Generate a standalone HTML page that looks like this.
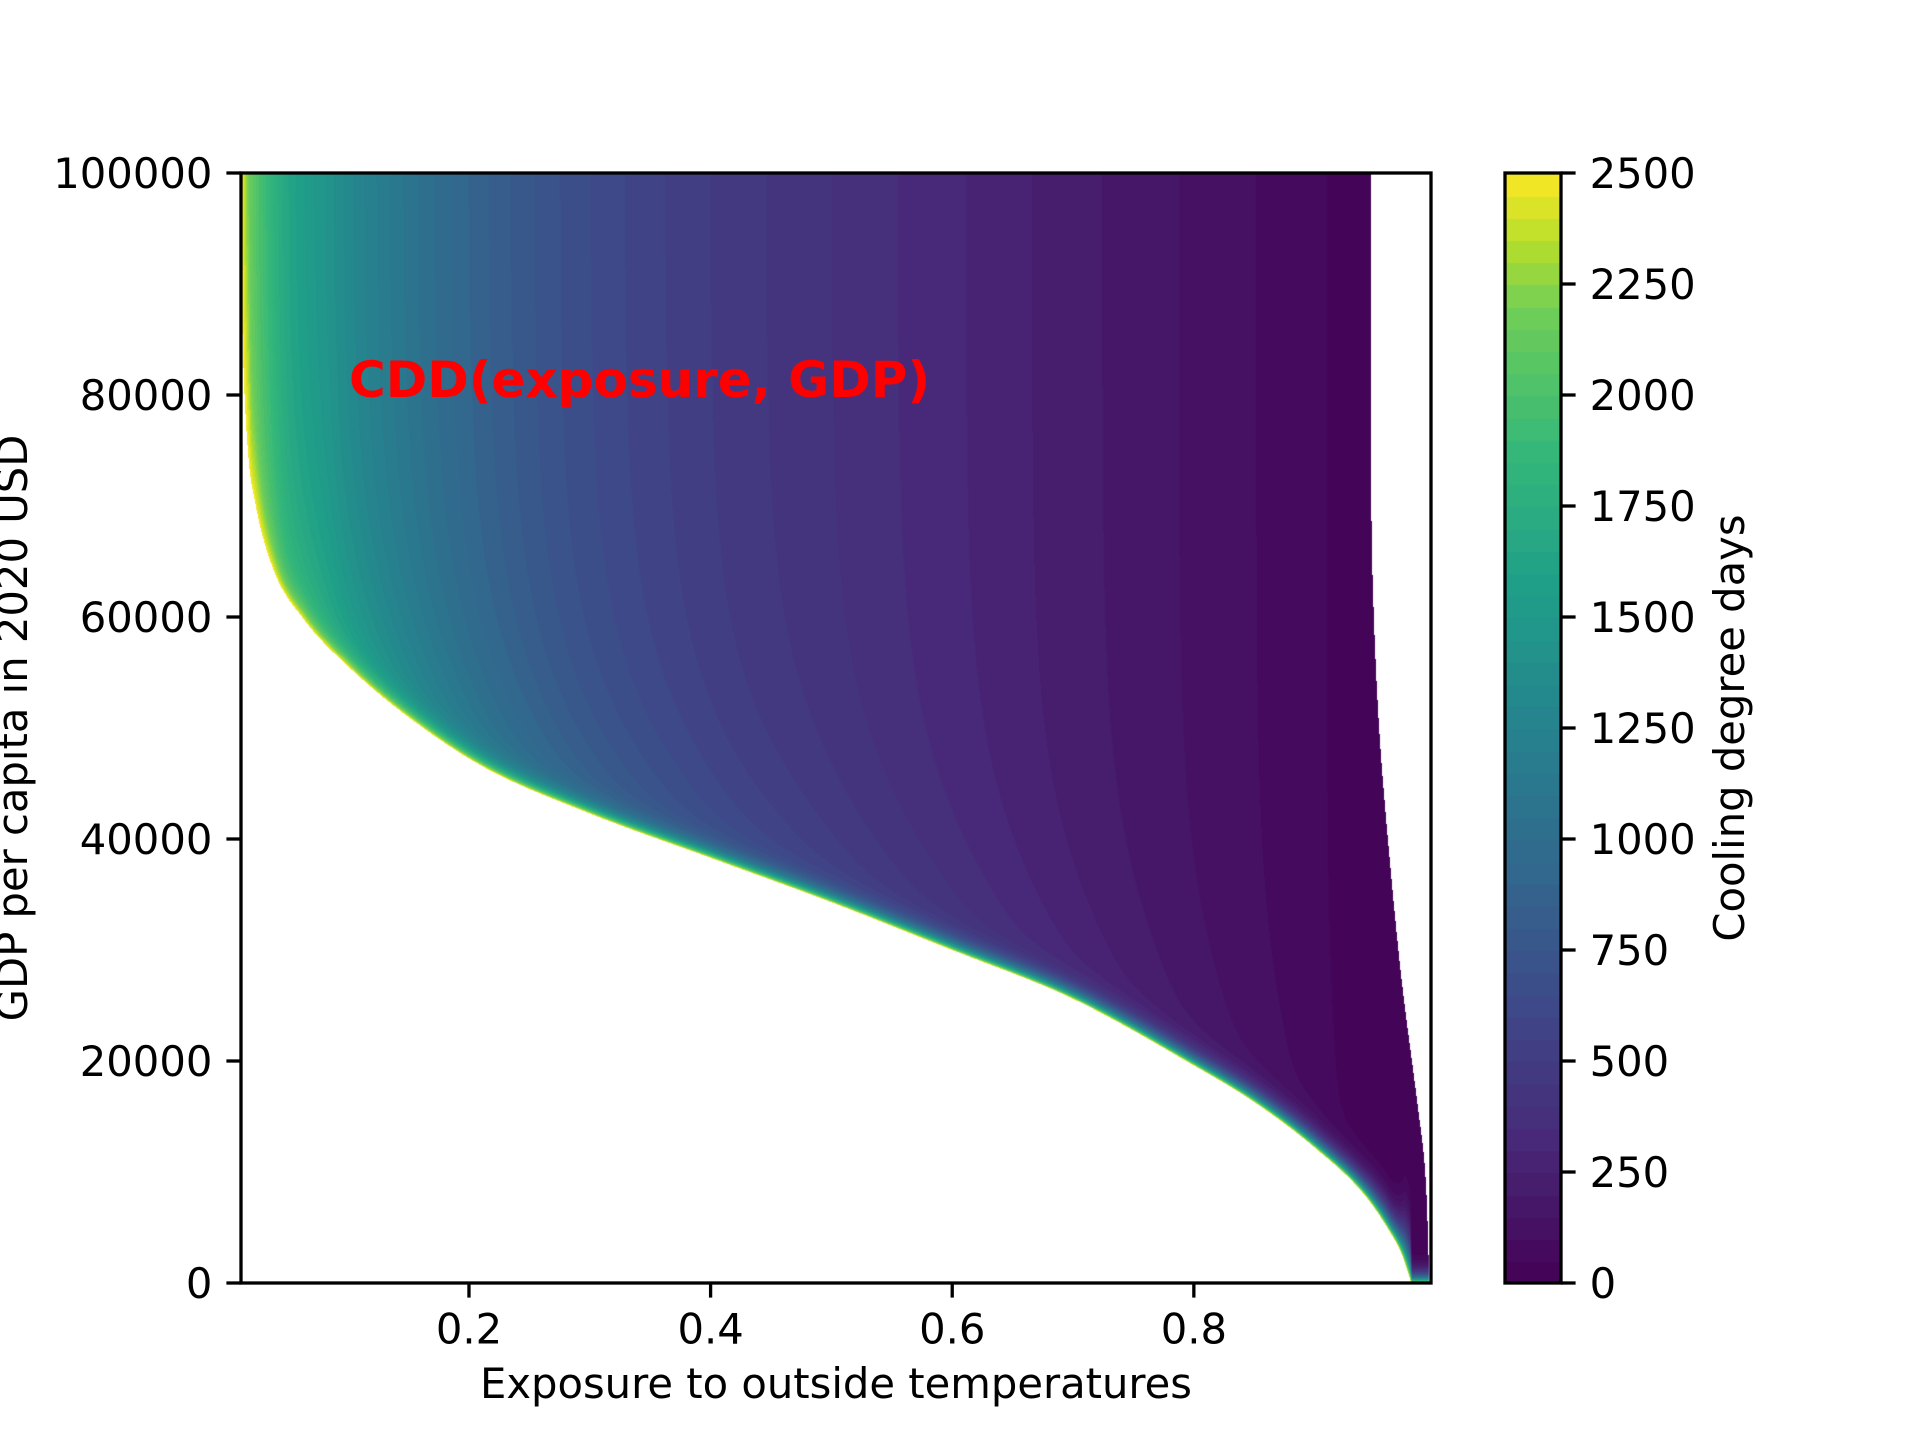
<!DOCTYPE html>
<html><head><meta charset="utf-8">
<style>
html,body{margin:0;padding:0;background:#fff;}
#root{position:relative;width:1920px;height:1440px;overflow:hidden;font-family:"DejaVu Sans","Liberation Sans",sans-serif;}
canvas{position:absolute;}
svg{position:absolute;left:0;top:0;}
</style></head>
<body>
<div id="root">
<canvas id="field" width="1190" height="1110" style="left:241px;top:173px;"></canvas>
<canvas id="cbar" width="56" height="1110" style="left:1505px;top:173px;"></canvas>
<svg id="ov" width="1920" height="1440"></svg>
</div>
<script>
// ---- data ----
const boundaryExposure = [0.0113,0.0129,0.017,0.0227,0.0377,0.0625,0.1015,0.151,0.212,0.3,0.4,0.5,0.6,0.7,0.8,0.85,0.9,0.94,0.96,0.972,0.98];
const boundaryGDP      = [92000,84000,75000,70500,64400,59900,55400,50900,46500,42300,38300,34300,30000,25600,19600,16300,12200,8100,5000,2600,0];
const topExposure = [0.0113,0.015,0.023,0.035,0.05,0.085,0.1,0.15,0.2,0.25,0.3,0.4,0.5,0.6,0.7,0.8,0.9,0.95,1.0];
const topCDD      = [2450,2250,2050,1850,1650,1420,1320,1080,900,760,650,500,400,310,220,140,60,10,0];
const edgeGDP      = [0,10700,16200,27300,38300,49400,60000,70000,100000];
const edgeExposure = [0.995,0.991,0.985,0.972,0.962,0.9537,0.949,0.947,0.947];
const xTicks = [0.2,0.4,0.6,0.8];
const yTicks = [0,20000,40000,60000,80000,100000];
const cbTicks = [0,250,500,750,1000,1250,1500,1750,2000,2250,2500];
const cddMax = 2500, levelStep = 50;

// ---- axes ----
const AX = {l:241, r:1431, t:173, b:1283};
const eMin = 0.0113, eMaxAx = 0.9963, gMin = 0, gMax = 100000;
const xS = e => AX.l + (e - eMin) / (eMaxAx - eMin) * (AX.r - AX.l);
const yS = g => AX.b - (g - gMin) / (gMax - gMin) * (AX.b - AX.t);
const cbS = v => AX.b - v / cddMax * (AX.b - AX.t);

function makeMono(xs, ys){
  const n=xs.length, d=[], m=new Array(n);
  for(let i=0;i<n-1;i++) d.push((ys[i+1]-ys[i])/(xs[i+1]-xs[i]));
  m[0]=d[0]; m[n-1]=d[n-2];
  for(let i=1;i<n-1;i++){ m[i]=(d[i-1]*d[i]<=0)?0:(d[i-1]+d[i])/2; }
  for(let i=0;i<n-1;i++){
    if(d[i]===0){m[i]=0;m[i+1]=0;continue;}
    const a=m[i]/d[i], b=m[i+1]/d[i], s=a*a+b*b;
    if(s>9){const t=3/Math.sqrt(s); m[i]=t*a*d[i]; m[i+1]=t*b*d[i];}
  }
  return function(x){
    if(x<=xs[0]) return ys[0];
    if(x>=xs[n-1]) return ys[n-1];
    let i=0; while(x>xs[i+1]) i++;
    const h=xs[i+1]-xs[i], t=(x-xs[i])/h, t2=t*t, t3=t2*t;
    return (2*t3-3*t2+1)*ys[i]+(t3-2*t2+t)*h*m[i]+(-2*t3+3*t2)*ys[i+1]+(t3-t2)*h*m[i+1];
  };
}
const boundaryF = makeMono(boundaryExposure, boundaryGDP);
const topF = makeMono(topExposure, topCDD);
const edgeF = makeMono(edgeGDP, edgeExposure);

const vir = [[68,1,84],[72,40,120],[62,73,137],[49,104,142],[38,130,142],[31,158,137],[53,183,121],[110,206,88],[181,222,43],[253,231,37]];
const virT = [0,0.125,0.25,0.375,0.5,0.625,0.75,0.875,0.9375,1];
function cmap(t){
  t=Math.max(0,Math.min(1,t));
  let i=1; while(i<virT.length-1 && t>virT[i]) i++;
  const f=(t-virT[i-1])/(virT[i]-virT[i-1]);
  return [0,1,2].map(k=>Math.round(vir[i-1][k]+f*(vir[i][k]-vir[i-1][k])));
}
function quant(v){ return Math.min(cddMax-levelStep, Math.floor(v/levelStep)*levelStep) + levelStep/2; }

// ---- field ----
(function(){
  const c=document.getElementById('field'), ctx=c.getContext('2d');
  const W=c.width,H=c.height, img=ctx.createImageData(W,H), d=img.data;
  const pxPerG = (AX.b-AX.t)/(gMax-gMin), de=(eMaxAx-eMin)/W;
  const emxRow=[];
  for(let py=0;py<H;py++){ const g=gMax-(py+0.5)/H*(gMax-gMin); emxRow.push(edgeF(g)); }
  for(let px=0;px<W;px++){
    const e = eMin + (px+0.5)/W*(eMaxAx-eMin);
    const gb = boundaryF(e);
    const slope = (boundaryF(e-de) - boundaryF(e+de))/2*pxPerG;
    const cosA = 1/Math.sqrt(1+slope*slope);
    const base = topF(e);
    for(let py=0;py<H;py++){
      const g = gMax - (py+0.5)/H*(gMax-gMin);
      const o=(py*W+px)*4;
      if (g < gb || e > emxRow[py]) { d[o]=d[o+1]=d[o+2]=255; d[o+3]=255; continue; }
      const dg = g-gb;
      const dperp = dg*pxPerG*cosA;
      let v = base*(1+0.6*Math.exp(-dg/9000)*(1-base/cddMax));
      v = Math.min(v, 2450);
      v = v + (cddMax - v)*Math.exp(-dperp/7);
      const col = cmap(quant(v)/cddMax);
      d[o]=col[0];d[o+1]=col[1];d[o+2]=col[2];d[o+3]=255;
    }
  }
  ctx.putImageData(img,0,0);
})();
(function(){
  const c=document.getElementById('cbar'), ctx=c.getContext('2d');
  for(let v=0; v<cddMax; v+=levelStep){
    const col=cmap((v+levelStep/2)/cddMax);
    ctx.fillStyle=`rgb(${col})`;
    const y1=cbS(v+levelStep)-AX.t, y0=cbS(v)-AX.t;
    ctx.fillRect(0,Math.floor(y1),c.width,Math.ceil(y0-y1)+1);
  }
})();

// ---- overlay ----
const NS='http://www.w3.org/2000/svg', ov=document.getElementById('ov');
function mk(tag, attrs, text){
  const el=document.createElementNS(NS,tag);
  for(const k in attrs) el.setAttribute(k,attrs[k]);
  if(text!==undefined) el.textContent=text;
  ov.appendChild(el); return el;
}
const FS=41.7, TL=14.6, SW=3.3;
xTicks.forEach(t=>{
  const x=xS(t);
  const l=mk('line',{x1:x,x2:x,y1:AX.b,y2:AX.b+TL,stroke:'#000','stroke-width':SW});
  
  
  const tx=mk('text',{x:x,y:AX.b+TL+14+FS*0.76,'text-anchor':'middle','font-size':FS,fill:'#000'},t.toFixed(1));
  
  
});
yTicks.forEach(t=>{
  const y=yS(t);
  const l=mk('line',{x1:AX.l-TL,x2:AX.l,y1:y,y2:y,stroke:'#000','stroke-width':SW});
  
  
  const tx=mk('text',{x:AX.l-TL-14,y:y+FS*0.36,'text-anchor':'end','font-size':FS,fill:'#000'},String(t));
  
  
});
cbTicks.forEach(t=>{
  const y=cbS(t);
  const l=mk('line',{x1:1561,x2:1561+TL,y1:y,y2:y,stroke:'#000','stroke-width':SW});
  
  
  const tx=mk('text',{x:1561+TL+14,y:y+FS*0.36,'font-size':FS,fill:'#000'},String(t));
  
  
});
const sp=mk('rect',{x:AX.l,y:AX.t,width:AX.r-AX.l,height:AX.b-AX.t,fill:'none',stroke:'#000','stroke-width':SW});


const cb=mk('rect',{x:1505,y:AX.t,width:56,height:AX.b-AX.t,fill:'none',stroke:'#000','stroke-width':SW});


const xl=mk('text',{x:(AX.l+AX.r)/2,y:1398,'text-anchor':'middle','font-size':FS,fill:'#000'},'Exposure to outside temperatures');


const yl=mk('text',{x:0,y:0,'text-anchor':'middle','font-size':FS,fill:'#000',transform:'translate(27,728) rotate(-90)'},'GDP per capita in 2020 USD');


const cl=mk('text',{x:0,y:0,'text-anchor':'middle','font-size':FS,fill:'#000',transform:'translate(1744,728) rotate(-90)'},'Cooling degree days');


const an=mk('text',{x:349,y:397,'font-size':50,'font-weight':'bold',fill:'#ff0000'},'CDD(exposure, GDP)');


</script>
</body></html>
